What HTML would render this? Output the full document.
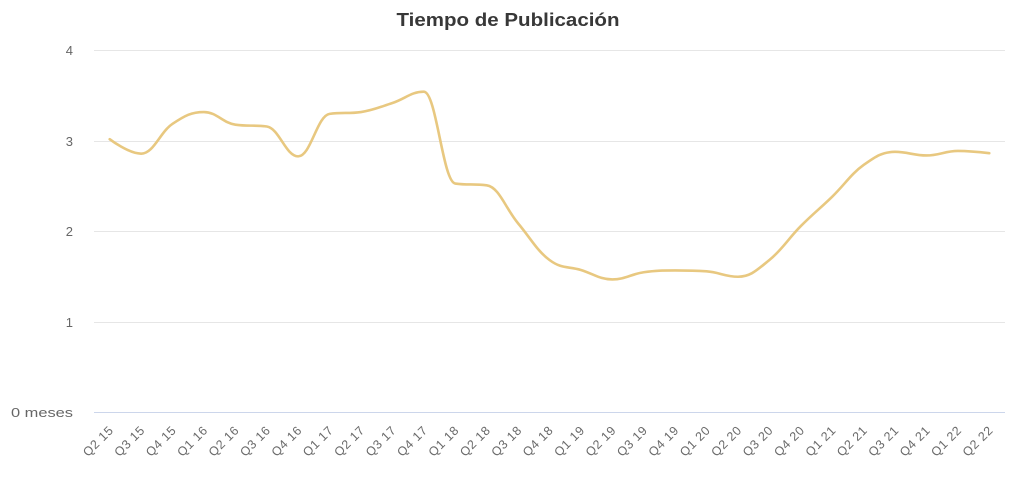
<!DOCTYPE html>
<html>
<head>
<meta charset="utf-8">
<style>
  html,body{margin:0;padding:0;background:#fff;}
  svg{display:block;}
  text{font-family:"Liberation Sans",sans-serif;}
</style>
</head>
<body>
<svg id="c" width="1015" height="477" viewBox="0 0 1015 477" xmlns="http://www.w3.org/2000/svg">
  <rect width="1015" height="477" fill="#fff"/>
  <text x="508" y="26" text-anchor="middle" font-size="18" font-weight="bold" fill="#383838" textLength="223" lengthAdjust="spacingAndGlyphs">Tiempo de Publicación</text>
  <g stroke="#e6e6e6" stroke-width="1">
    <line x1="94" y1="50.5" x2="1005" y2="50.5"/>
    <line x1="94" y1="141.5" x2="1005" y2="141.5"/>
    <line x1="94" y1="231.5" x2="1005" y2="231.5"/>
    <line x1="94" y1="322.5" x2="1005" y2="322.5"/>
  </g>
  <line x1="94" y1="412.5" x2="1005" y2="412.5" stroke="#ccd6eb" stroke-width="1"/>
  <g font-size="13" fill="#666666" text-anchor="end">
    <text x="73" y="55">4</text>
    <text x="73" y="146">3</text>
    <text x="73" y="236">2</text>
    <text x="73" y="327">1</text>
    <text x="73" y="417" textLength="62" lengthAdjust="spacingAndGlyphs">0 meses</text>
  </g>
  <g id="xl" font-size="12.5" fill="#6a6a6a" text-anchor="end"></g>
  <path id="ln" fill="none" stroke="#E8C880" stroke-width="2.6" stroke-linejoin="round" stroke-linecap="round"/>
</svg>
<script>
(function(){
  var labels=["Q2 15","Q3 15","Q4 15","Q1 16","Q2 16","Q3 16","Q4 16","Q1 17","Q2 17","Q3 17","Q4 17","Q1 18","Q2 18","Q3 18","Q4 18","Q1 19","Q2 19","Q3 19","Q4 19","Q1 20","Q2 20","Q3 20","Q4 20","Q1 21","Q2 21","Q3 21","Q4 21","Q1 22","Q2 22"];
  var vals=[3.02,2.86,3.19,3.32,3.18,3.16,2.83,3.30,3.32,3.42,3.545,2.53,2.51,2.09,1.685,1.575,1.47,1.55,1.57,1.56,1.50,1.685,2.06,2.385,2.735,2.88,2.84,2.89,2.865];
  var x0=94,w=911,n=labels.length,step=w/n;
  var y0=412.5,unit=90.5;
  var ns="http://www.w3.org/2000/svg";
  var g=document.getElementById('xl');
  var pts=[];
  for(var i=0;i<n;i++){
    var x=x0+(i+0.5)*step;
    pts.push({x:x,y:y0-vals[i]*unit});
    var t=document.createElementNS(ns,'text');
    t.setAttribute('transform','translate('+(x+4.5)+',431) rotate(-45)');
    t.setAttribute('letter-spacing','0.6');
    t.textContent=labels[i];
    g.appendChild(t);
  }
  var s=1.5,den=s+1,d='M '+pts[0].x+' '+pts[0].y;
  for(var i=1;i<n;i++){
    var p=pts[i],last=pts[i-1],next=pts[i+1];
    var lcx,lcy;
    if(next){
      lcx=(s*p.x+last.x)/den; lcy=(s*p.y+last.y)/den;
      var rcx=(s*p.x+next.x)/den, rcy=(s*p.y+next.y)/den;
      var corr=0;
      if(rcx!==lcx){corr=((rcy-lcy)*(rcx-p.x))/(rcx-lcx)+p.y-rcy;}
      lcy+=corr; rcy+=corr;
      if(lcy>last.y&&lcy>p.y){lcy=Math.max(last.y,p.y);rcy=2*p.y-lcy;}
      else if(lcy<last.y&&lcy<p.y){lcy=Math.min(last.y,p.y);rcy=2*p.y-lcy;}
      if(rcy>next.y&&rcy>p.y){rcy=Math.max(next.y,p.y);lcy=2*p.y-rcy;}
      else if(rcy<next.y&&rcy<p.y){rcy=Math.min(next.y,p.y);lcy=2*p.y-rcy;}
      p.rcx=rcx;p.rcy=rcy;
    } else {lcx=p.x;lcy=p.y;}
    var a=(last.rcx!==undefined)?last.rcx:last.x, b=(last.rcy!==undefined)?last.rcy:last.y;
    d+=' C '+a+' '+b+' '+lcx+' '+lcy+' '+p.x+' '+p.y;
  }
  document.getElementById('ln').setAttribute('d',d);
})();
</script>
</body>
</html>
